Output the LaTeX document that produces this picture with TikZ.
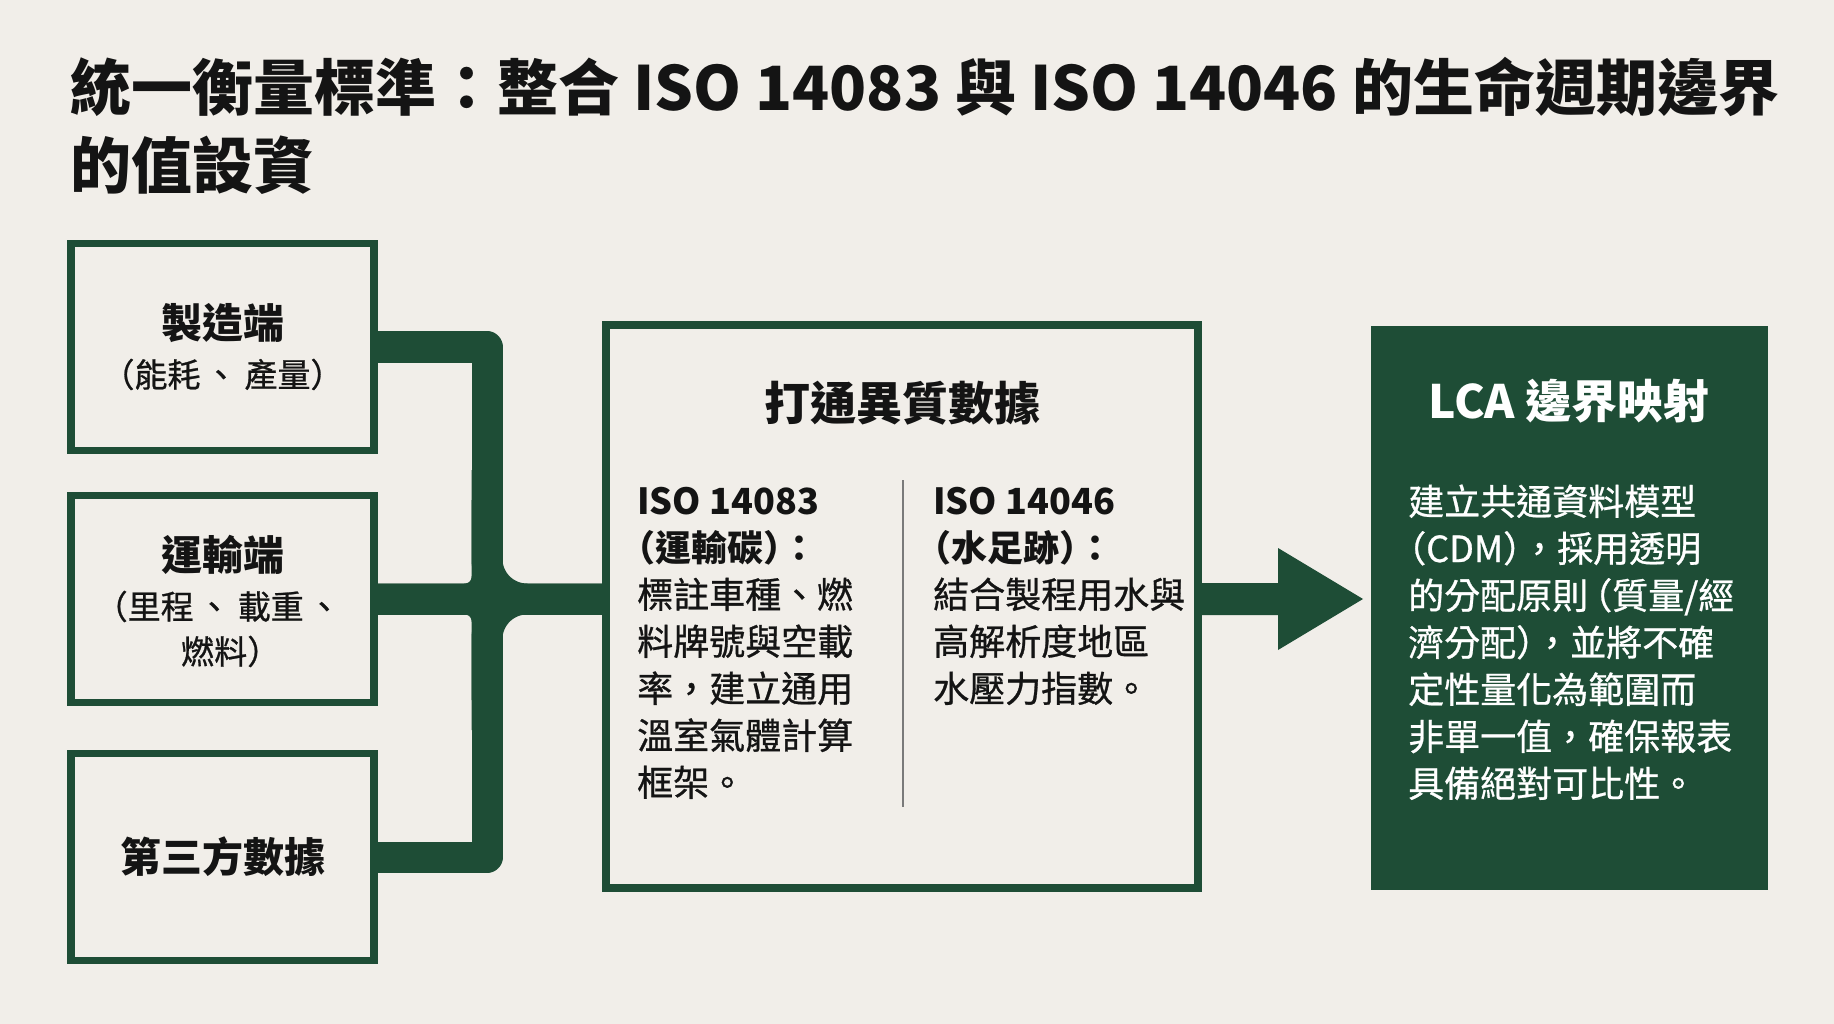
\documentclass[tikz,border=0pt]{standalone}
\usepackage{fontspec}
\setmainfont{Noto Sans CJK TC}
\newfontfamily\medfont{Noto Sans CJK TC}[FakeBold=0.8]
\newfontfamily\haltfont{Noto Sans CJK TC}[CharacterWidth=AlternateHalf]
\newfontfamily\halfmed{Noto Sans CJK TC}[CharacterWidth=AlternateHalf,FakeBold=0.8]
\newcommand\hl[1]{{\haltfont #1}}
\newcommand\hm[1]{{\halfmed #1}}
\newcommand\dun{\hspace{4pt}、\hspace{7pt}}
\usetikzlibrary{calc}
\definecolor{bg}{HTML}{F1EEE9}
\definecolor{fgreen}{HTML}{1E4D36}
\definecolor{ink}{HTML}{141414}
\definecolor{divgray}{HTML}{7A7A7A}
\begin{document}
\begin{tikzpicture}[x=1pt,y=-1pt,
  srcbox/.style={draw=fgreen, line width=7.5pt, minimum width=303pt, minimum height=207pt, inner sep=0pt, outer sep=0pt},
  bus/.style={draw=fgreen, line width=31pt, line join=round},
  titletxt/.style={font=\bfseries\fontsize{61}{70}\selectfont, text=ink, inner sep=0pt, anchor=base west},
  boxhead/.style={font=\bfseries\fontsize{41}{46}\selectfont, text=ink, inner sep=0pt, anchor=base},
  boxsub/.style={font=\medfont\fontsize{33}{38}\selectfont, text=ink, inner sep=0pt, anchor=base},
  panelhead/.style={font=\bfseries\fontsize{46}{50}\selectfont, inner sep=0pt, anchor=base},
  bodytxt/.style={font=\medfont\fontsize{36}{42}\selectfont, text=ink, inner sep=0pt, anchor=base west},
  bodybold/.style={bodytxt, font=\bfseries\fontsize{36}{42}\selectfont},
  whitetxt/.style={bodytxt, text=white}
]
\useasboundingbox (0,0) rectangle (1834,1024);
\fill[bg] (0,0) rectangle (1834,1024);

% title
\node[titletxt] (t1) at (70,111) {統一衡量標準：整合 ISO 14083 與 ISO 14046 的生命週期邊界};
\node[titletxt] (t2) at (70,189) {的值設資};

% source boxes
\node[srcbox] (b1) at (222.5,347) {};
\node[srcbox] (b2) at (222.5,599) {};
\node[srcbox] (b3) at (222.5,857) {};

\node[boxhead] (b1a) at (222.5,338) {製造端};
\node[boxsub]  (b1b) at (222.5,387) {\hm{（}能耗\dun 產量\hm{）}};
\node[boxhead] (b2a) at (222.5,570) {運輸端};
\node[boxsub]  (b2b) at (226,619) {\hm{（}里程\dun 載重\dun};
\node[boxsub]  (b2c) at (222.5,664) {燃料\hm{）}};
\node[boxhead] (b3a) at (222.5,872) {第三方數據};

% central box
\node[draw=fgreen, line width=7.5pt, minimum width=592pt, minimum height=563pt, inner sep=0pt, outer sep=0pt] (cbox) at (902,606.5) {};
\node[panelhead, text=ink] (ctitle) at (902,420) {打通異質數據};
\coordinate (dtop) at (903,480);
\coordinate (dbot) at (903,807);
\draw[divgray, line width=2pt] (dtop) -- (dbot);

\node[bodybold] (L0) at (637,514) {ISO 14083};
\node[bodybold] (L1) at (637,561) {\hl{（}運輸碳\hl{）}：};
\node[bodytxt]  (L2) at (637,608) {標註車種、燃};
\node[bodytxt]  (L3) at (637,655) {料牌號與空載};
\node[bodytxt]  (L4) at (637,702) {率，建立通用};
\node[bodytxt]  (L5) at (637,749) {溫室氣體計算};
\node[bodytxt]  (L6) at (637,796) {框架。};

\node[bodybold] (R0) at (933,514) {ISO 14046};
\node[bodybold] (R1) at (933,561) {\hl{（}水足跡\hl{）}：};
\node[bodytxt]  (R2) at (933,608) {結合製程用水與};
\node[bodytxt]  (R3) at (933,655) {高解析度地區};
\node[bodytxt]  (R4) at (933,702) {水壓力指數。};

% right box
\node[fill=fgreen, minimum width=397pt, minimum height=564pt, inner sep=0pt, outer sep=0pt] (rbox) at (1569.5,608) {};
\node[panelhead, text=white] (rtitle) at (1569,418) {LCA 邊界映射};
\node[whitetxt] (G0) at (1408,515) {建立共通資料模型};
\node[whitetxt] (G1) at (1408,562) {\hm{（}CDM\hm{）}，採用透明};
\node[whitetxt] (G2) at (1408,609) {的分配原則\hspace{6pt}\hm{（}質量/經};
\node[whitetxt] (G3) at (1408,656) {濟分配\hm{）}，並將不確};
\node[whitetxt] (G4) at (1408,703) {定性量化為範圍而};
\node[whitetxt] (G5) at (1408,750) {非單一值，確保報表};
\node[whitetxt] (G6) at (1408,797) {具備絕對可比性。};

% bus connector
\coordinate (jx) at (487,0);
\coordinate (J) at (487,599);
\draw[bus] (b1.east) -- (b1.east -| jx) -- (b3.east -| jx) -- (b3.east);
\draw[bus] (b2.east) -- (cbox.west |- J);
\draw[bus, rounded corners=40pt] (487,470) -- (J) -- (cbox.west |- J);
\draw[bus, rounded corners=40pt] (487,730) -- (J) -- (cbox.west |- J);
\draw[bus, rounded corners=22pt] (487,500) -- (J) -- (b2.east);
\draw[bus, rounded corners=22pt] (487,700) -- (J) -- (b2.east);

% arrow
\coordinate (atip) at ($(rbox.west |- J)+(-8,0)$);
\fill[fgreen] ($(cbox.east |- J)+(0,-16)$) -- ($(atip)+(-85,-16)$) -- ($(atip)+(-85,-51)$) -- (atip)
  -- ($(atip)+(-85,51)$) -- ($(atip)+(-85,16)$) -- ($(cbox.east |- J)+(0,16)$) -- cycle;
\end{tikzpicture}
\end{document}
